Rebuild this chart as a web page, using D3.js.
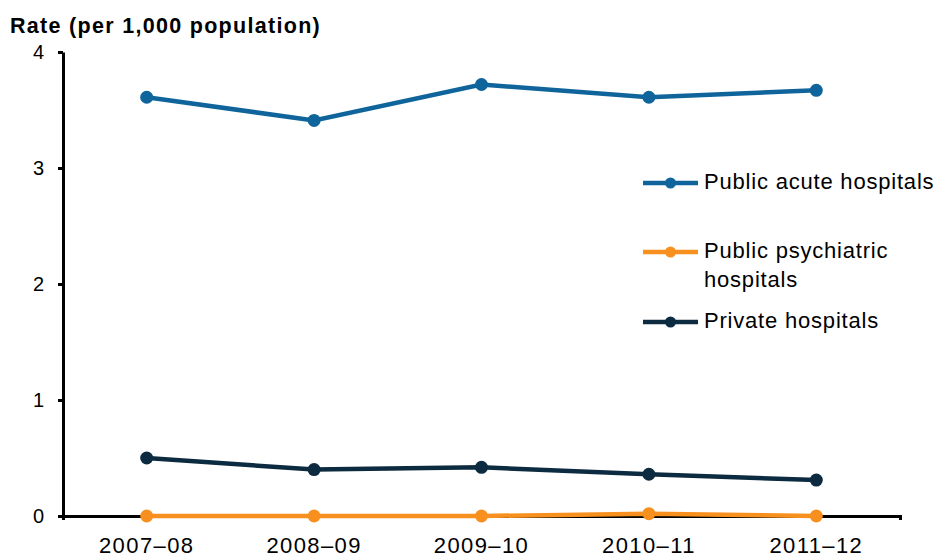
<!DOCTYPE html>
<html>
<head>
<meta charset="utf-8">
<script src="https://cdn.jsdelivr.net/npm/d3@7"></script>
<style>
  body { margin: 0; background: #fff; }
  svg { font-family: "Liberation Sans", Arial, sans-serif; }
</style>
</head>
<body>
<svg id="chart" width="939" height="558"></svg>
<script>
const years = ['2007–08', '2008–09', '2009–10', '2010–11', '2011–12'];
const publicAcute = [3.61, 3.41, 3.72, 3.61, 3.67];
const publicPsych = [0.0, 0.0, 0.0, 0.02, 0.0];
const privateHosp = [0.50, 0.40, 0.42, 0.36, 0.31];
const yTicks = [0, 1, 2, 3, 4];

const series = [
  { name: ['Public acute hospitals'], values: publicAcute, color: '#0f659b', ly: 183 },
  { name: ['Public psychiatric', 'hospitals'], values: publicPsych, color: '#f7901e', ly: 252 },
  { name: ['Private hospitals'], values: privateHosp, color: '#0c2a40', ly: 322 }
];

const svg = d3.select('#chart');
const margin = { top: 52, left: 63, right: 39, bottom: 42 };
const width = 939 - margin.left - margin.right;
const height = 558 - margin.top - margin.bottom;

const x = d3.scaleBand().domain(years).range([0, width]);
const y = d3.scaleLinear().domain([0, 4]).range([height, 0]);

const g = svg.append('g')
  .attr('transform', `translate(${margin.left},${margin.top})`);

// x axis
const xAxis = g.append('g')
  .attr('transform', `translate(0,${height})`)
  .call(d3.axisBottom(x).tickSize(0).tickSizeOuter(4).tickPadding(21));
xAxis.select('.domain').attr('stroke', '#000').attr('stroke-width', 3);
xAxis.selectAll('text')
  .attr('font-size', 22)
  .attr('letter-spacing', 1.4)
  .attr('fill', '#000');

// y axis
const yAxis = g.append('g')
  .call(d3.axisLeft(y).tickValues(yTicks).tickFormat(d3.format('d'))
    .tickSize(5).tickSizeOuter(0).tickPadding(14));
yAxis.select('.domain').attr('stroke', '#000').attr('stroke-width', 3);
yAxis.selectAll('.tick line').attr('stroke', '#000').attr('stroke-width', 3);
yAxis.selectAll('text').attr('font-size', 20).attr('fill', '#000');

const line = d3.line()
  .x((d, i) => x(years[i]) + x.bandwidth() / 2)
  .y(d => y(d));

series.forEach(s => {
  g.append('path')
    .datum(s.values)
    .attr('fill', 'none')
    .attr('stroke', s.color)
    .attr('stroke-width', 4.5)
    .attr('d', line);
  g.selectAll(null)
    .data(s.values)
    .enter().append('circle')
    .attr('cx', (d, i) => x(years[i]) + x.bandwidth() / 2)
    .attr('cy', d => y(d))
    .attr('r', 6.5)
    .attr('fill', s.color);
});

// legend
const legend = svg.append('g');
series.forEach(s => {
  const lg = legend.append('g').attr('transform', `translate(643,${s.ly})`);
  lg.append('line').attr('x1', 0).attr('x2', 55).attr('y1', 0).attr('y2', 0)
    .attr('stroke', s.color).attr('stroke-width', 4.5);
  lg.append('circle').attr('cx', 27.5).attr('cy', 0).attr('r', 5.5).attr('fill', s.color);
  s.name.forEach((t, i) => {
    lg.append('text')
      .attr('x', 61)
      .attr('y', 6 + i * 29)
      .attr('font-size', 22)
      .attr('letter-spacing', 0.8)
      .attr('fill', '#000')
      .text(t);
  });
});

// title
svg.append('text')
  .attr('x', 10)
  .attr('y', 33)
  .attr('font-size', 21.5)
  .attr('font-weight', 'bold')
  .attr('letter-spacing', 1.3)
  .attr('fill', '#000')
  .text('Rate (per 1,000 population)');
</script>
</body>
</html>
